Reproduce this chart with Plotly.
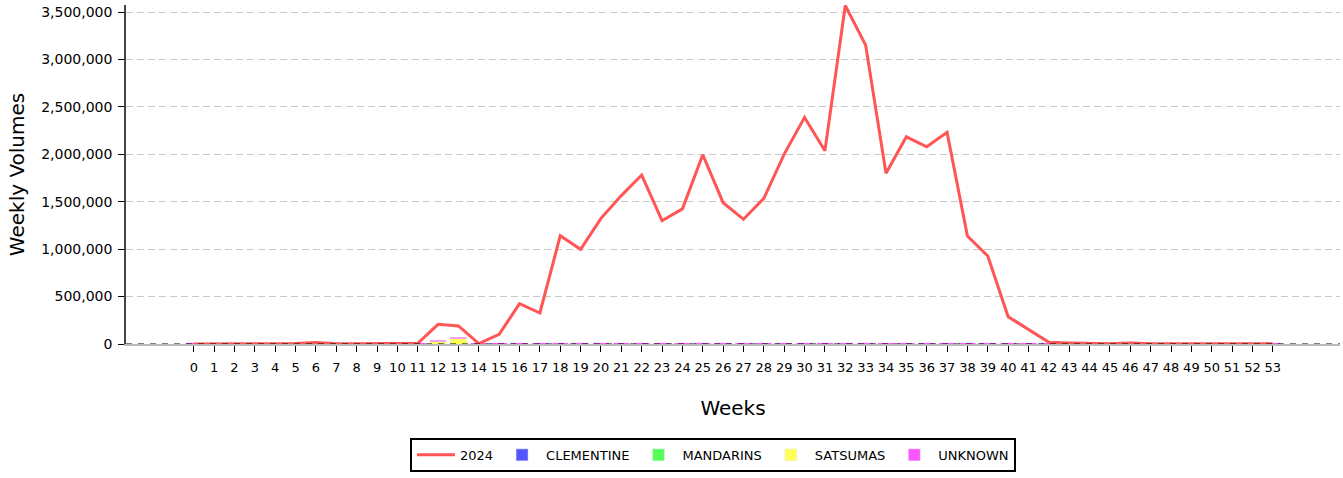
import plotly.graph_objects as go

weeks = list(range(0, 54))
week_labels = [str(w) for w in weeks]

total_2024 = [0, 0, 0, 0, 0, 5000, 15000, 3000, 3000, 5000, 3000, 8000,
              207000, 190000, 5000, 102000, 425000, 327000, 1142000, 998000,
              1325000, 1565000, 1782000, 1300000, 1425000, 1996000, 1490000,
              1315000, 1536000, 2003000, 2390000, 2038000, 3570000, 3152000,
              1800000, 2185000, 2080000, 2232000, 1139000, 928000, 288000,
              150000, 18000, 10000, 5000, 3000, 10000, 2000, 2000, 2000,
              2000, 2000, 2000, 2000]

clementine = [0] * 54
mandarins = [0] * 54
satsumas = [0] * 54
satsumas[12] = 25000
satsumas[13] = 55000
unknown = [15000] * 54

fig = go.Figure()
fig.add_trace(go.Scatter(x=weeks, y=total_2024, mode="lines", name="2024",
                         line=dict(color="#FF5555", width=3)))
fig.add_trace(go.Bar(x=weeks, y=clementine, name="CLEMENTINE", marker_color="#5555FF"))
fig.add_trace(go.Bar(x=weeks, y=mandarins, name="MANDARINS", marker_color="#55FF55"))
fig.add_trace(go.Bar(x=weeks, y=satsumas, name="SATSUMAS", marker_color="#FFFF55"))
fig.add_trace(go.Bar(x=weeks, y=unknown, name="UNKNOWN", marker_color="#FF55FF"))

fig.add_hline(y=0, line=dict(color="black", width=1, dash="6px,6px"), layer="above")

fig.update_layout(
    width=1343, height=478,
    margin=dict(l=126, r=3, t=5, b=134, autoexpand=False),
    paper_bgcolor="white", plot_bgcolor="white",
    font=dict(family="DejaVu Sans", size=13, color="black"),
    barmode="stack", bargap=0.2,
    showlegend=True,
    legend=dict(orientation="h", x=0.4835, xanchor="center", y=-0.277, yanchor="top",
                bordercolor="black", borderwidth=2, bgcolor="white",
                font=dict(size=13), traceorder="normal", itemwidth=38),
    xaxis=dict(
        title=dict(text="Weeks", font=dict(size=20), standoff=27),
        tickmode="array", tickvals=weeks, ticktext=week_labels,
        range=[-3.33, 56.3], showgrid=False, zeroline=False, automargin=False,
        showline=True, linecolor="#BBBBBB", linewidth=2, layer="below traces",
        ticks="outside", ticklen=6, tickcolor="black", tickfont=dict(size=13),
        ticklabelstandoff=4,
    ),
    yaxis=dict(
        title=dict(text="Weekly Volumes", font=dict(size=20), standoff=11),
        range=[0, 3575000], tickvals=[0, 500000, 1000000, 1500000, 2000000, 2500000, 3000000, 3500000],
        tickformat=",", showgrid=True, gridcolor="#C8C8C8", griddash="7px,4px",
        zeroline=False, showline=True, linecolor="#444444", linewidth=1.5, automargin=False,
        ticks="outside", ticklen=6, tickcolor="black", tickfont=dict(size=14),
        ticklabelstandoff=3,
    ),
)

fig.write_html("out.html", config={"displayModeBar": False},
               post_script="document.body.style.margin='0';")
